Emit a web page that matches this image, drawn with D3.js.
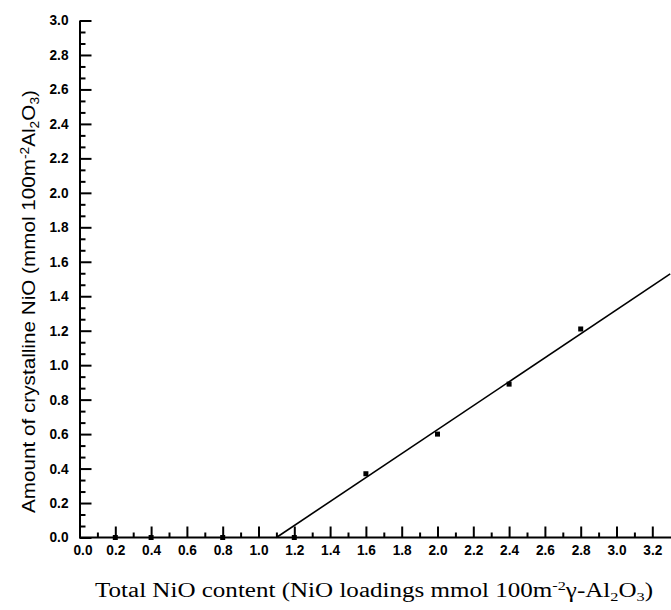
<!DOCTYPE html>
<html>
<head>
<meta charset="utf-8">
<script src="https://cdn.jsdelivr.net/npm/d3@7"></script>
<style>
  html, body { margin: 0; padding: 0; background: #fff; }
  svg { display: block; }
</style>
</head>
<body>
<svg id="chart" width="671" height="610"></svg>
<script>
// ---- data ----
const loadings = [0.2, 0.4, 0.8, 1.2, 1.6, 2.0, 2.4, 2.8];
const crystallineNiO = [0, 0, 0, 0, 0.37, 0.60, 0.89, 1.21];
const fitX = [1.10, 3.30];
const fitY = [0, 1.53];
const xTickValues = [0, 0.2, 0.4, 0.6, 0.8, 1.0, 1.2, 1.4, 1.6, 1.8, 2.0, 2.2, 2.4, 2.6, 2.8, 3.0, 3.2];
const xTickLabels = ["0.0","0.2","0.4","0.6","0.8","1.0","1.2","1.4","1.6","1.8","2.0","2.2","2.4","2.6","2.8","3.0","3.2"];
const yTickValues = [0, 0.2, 0.4, 0.6, 0.8, 1.0, 1.2, 1.4, 1.6, 1.8, 2.0, 2.2, 2.4, 2.6, 2.8, 3.0];
const yTickLabels = ["0.0","0.2","0.4","0.6","0.8","1.0","1.2","1.4","1.6","1.8","2.0","2.2","2.4","2.6","2.8","3.0"];

// ---- layout ----
const svg = d3.select("#chart");
const x = d3.scaleLinear().domain([0, 3.3]).range([79.5, 670.2]);
const y = d3.scaleLinear().domain([0, 3.0]).range([537.5, 20.5]);
const x0 = x(0), y0 = y(0);

const labelFont = "'Liberation Sans', Arial, Helvetica, sans-serif";

// minor ticks
const xMinor = d3.range(0.1, 3.25, 0.2);
const yMinor = d3.range(0, 15).flatMap(i => [i * 0.2 + 0.2 / 3, i * 0.2 + 0.4 / 3]);

const gxMinor = svg.append("g").attr("transform", `translate(0,${y0})`)
  .call(d3.axisBottom(x).tickValues(xMinor).tickSizeInner(-5).tickSizeOuter(0).tickFormat(""));
gxMinor.select(".domain").remove();

const gyMinor = svg.append("g").attr("transform", `translate(${x0},0)`)
  .call(d3.axisLeft(y).tickValues(yMinor).tickSizeInner(-6).tickSizeOuter(0).tickFormat(""));
gyMinor.select(".domain").remove();

// major axes
const gx = svg.append("g").attr("transform", `translate(0,${y0})`)
  .call(d3.axisBottom(x).tickValues(xTickValues).tickSizeInner(-11).tickSizeOuter(0).tickPadding(8)
    .tickFormat((d, i) => xTickLabels[i]));
const gy = svg.append("g").attr("transform", `translate(${x0},0)`)
  .call(d3.axisLeft(y).tickValues(yTickValues).tickSizeInner(-12).tickSizeOuter(0).tickPadding(11)
    .tickFormat((d, i) => yTickLabels[i]));

[gx, gy, gxMinor, gyMinor].forEach(g => {
  g.attr("font-size", 14).attr("font-family", labelFont).attr("font-weight", "bold");
  g.selectAll("line").attr("stroke", "#000").attr("stroke-width", 2);
  g.selectAll(".domain").attr("stroke", "#000").attr("stroke-width", 2);
  g.selectAll("text").attr("fill", "#000")
    .attr("font-size", 14).attr("font-weight", "bold")
    .attr("textLength", 19).attr("lengthAdjust", "spacingAndGlyphs");
});
gx.select(".domain").attr("d", `M${x0},0H671`);
gx.selectAll(".tick text").filter((d) => d === 0).attr("dx", 3);

// fit line
svg.append("path")
  .datum(fitX.map((v, i) => [v, fitY[i]]))
  .attr("fill", "none").attr("stroke", "#000").attr("stroke-width", 1.6)
  .attr("d", d3.line().x(d => x(d[0])).y(d => y(d[1])));

// points
svg.append("g").selectAll("rect")
  .data(loadings.map((v, i) => [v, crystallineNiO[i]]))
  .join("rect")
  .attr("x", d => x(d[0]) - 2.5).attr("y", d => y(d[1]) - 2.5)
  .attr("width", 5).attr("height", 5).attr("fill", "#000");

// y title
const yt = svg.append("text")
  .attr("transform", "translate(35,301.5) rotate(-90)")
  .attr("text-anchor", "middle")
  .attr("textLength", 423).attr("lengthAdjust", "spacingAndGlyphs")
  .style("font-family", labelFont).style("font-size", "18px").attr("fill", "#000");
yt.append("tspan").text("Amount of crystalline NiO (mmol 100m");
yt.append("tspan").attr("dy", -6).style("font-size", "12px").text("-2");
yt.append("tspan").attr("dy", 6).text("Al");
yt.append("tspan").attr("dy", 4).style("font-size", "12px").text("2");
yt.append("tspan").attr("dy", -4).text("O");
yt.append("tspan").attr("dy", 4).style("font-size", "12px").text("3");
yt.append("tspan").attr("dy", -4).text(")");

// x title
const xt = svg.append("text")
  .attr("x", 374).attr("y", 597)
  .attr("text-anchor", "middle")
  .attr("textLength", 558).attr("lengthAdjust", "spacingAndGlyphs")
  .style("font-family", "'Liberation Serif', 'Times New Roman', serif").style("font-size", "20px").attr("fill", "#000");
xt.append("tspan").text("Total NiO content (NiO loadings mmol 100m");
xt.append("tspan").attr("dy", -7).style("font-size", "13px").text("-2");
xt.append("tspan").attr("dy", 7).text("γ-Al");
xt.append("tspan").attr("dy", 4).style("font-size", "13px").text("2");
xt.append("tspan").attr("dy", -4).text("O");
xt.append("tspan").attr("dy", 4).style("font-size", "13px").text("3");
xt.append("tspan").attr("dy", -4).text(")");
</script>
</body>
</html>
